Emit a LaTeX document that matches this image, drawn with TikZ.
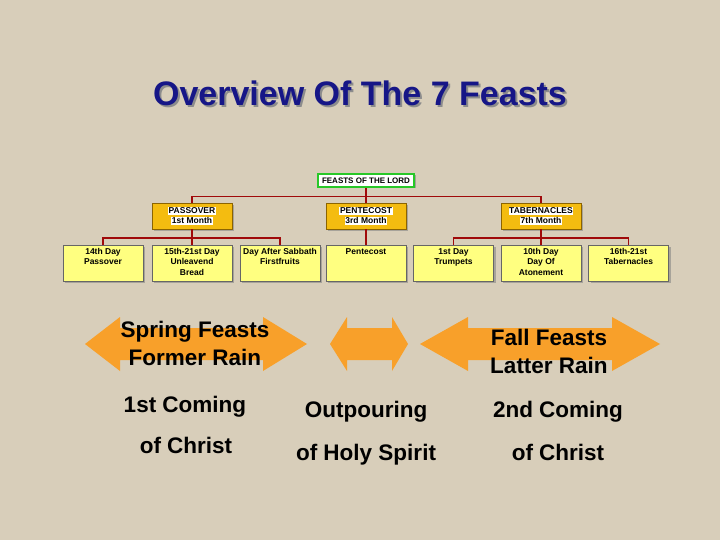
\documentclass[tikz,border=0pt]{standalone}
\usepackage{fontspec}
\setmainfont{Liberation Sans}
\usetikzlibrary{shadows}
\definecolor{bg}{RGB}{216,206,186}
\definecolor{titleblue}{RGB}{22,22,135}
\definecolor{arroworange}{RGB}{248,160,42}
\definecolor{goldbox}{RGB}{244,188,16}
\definecolor{goldedge}{RGB}{140,100,0}
\definecolor{yelbox}{RGB}{255,255,128}
\definecolor{greenedge}{RGB}{40,200,40}
\definecolor{connred}{RGB}{160,10,10}
\tikzset{
  conn/.style={draw=connred, line width=1.1pt},
  topbox/.style={draw=greenedge, line width=2pt, fill=white, minimum width=96pt, minimum height=13pt, inner sep=0pt,
    font=\fontsize{8}{9}\selectfont\bfseries, drop shadow={shadow xshift=1.5pt, shadow yshift=-1.5pt, opacity=0.6}},
  goldstyle/.style={draw=goldedge, line width=0.6pt, fill=goldbox, minimum width=80pt, minimum height=26pt, inner sep=0pt,
    align=center, font=\fontsize{8.5}{10}\selectfont\bfseries, drop shadow={shadow xshift=2pt, shadow yshift=-2pt, opacity=0.55}},
  yelstyle/.style={draw=black!60, line width=0.5pt, fill=yelbox, anchor=north, inner sep=3pt,
    font=\fontsize{8.5}{10.3}\selectfont\bfseries, drop shadow={shadow xshift=2pt, shadow yshift=-2pt, opacity=0.55}},
  bigtxt/.style={font=\fontsize{22.5}{28}\selectfont\bfseries, align=center, inner sep=0pt},
  arrowfill/.style={fill=arroworange},
}
\newcommand{\wl}[1]{{\setlength{\fboxsep}{0.6pt}\colorbox{white}{#1}}}
\newcommand{\ybox}[1]{\parbox[t][30pt][t]{74pt}{\centering #1}}
\begin{document}
\begin{tikzpicture}[x=1pt,y=-1pt]
\fill[bg] (0,0) rectangle (720,540);
\useasboundingbox (0,0) rectangle (720,540);

% title
\node[anchor=base, text=black!45, font=\fontsize{34}{40}\selectfont\bfseries, inner sep=0pt] (titleshadow) at (362,107.5) {Overview Of The 7 Feasts};
\node[anchor=base, text=titleblue, font=\fontsize{34}{40}\selectfont\bfseries, inner sep=0pt] (title) at (360,105.5) {Overview Of The 7 Feasts};

% chart
\node[topbox] (top) at (366,180.5) {FEASTS OF THE LORD};
\node[goldstyle] (pass) at (192,216) {\wl{PASSOVER}\\\wl{1st Month}};
\node[goldstyle] (pent) at (366,216) {\wl{PENTECOST}\\\wl{3rd Month}};
\node[goldstyle] (tab) at (541,216) {\wl{TABERNACLES}\\\wl{7th Month}};

\node[yelstyle] (d14) at (103,245) {\ybox{14th Day\\Passover}};
\node[yelstyle] (d15) at (192,245) {\ybox{15th-21st Day\\Unleavend\\Bread}};
\node[yelstyle] (dff) at (280,245) {\ybox{Day After Sabbath\\Firstfruits}};
\node[yelstyle] (pen) at (366,245) {\ybox{Pentecost}};
\node[yelstyle] (trp) at (453.5,245) {\ybox{1st Day\\Trumpets}};
\node[yelstyle] (atn) at (541,245) {\ybox{10th Day\\Day Of\\Atonement}};
\node[yelstyle] (t16) at (628.5,245) {\ybox{16th-21st\\Tabernacles}};

% connectors
\draw[conn] (top.south) -- (pent.north);
\draw[conn] (pass.north) -- ++(0,-6) -| (tab.north);
\draw[conn] (pass.south) -- (d15.north);
\draw[conn] (d14.north) -- ++(0,-7) -| (dff.north);
\draw[conn] (pent.south) -- (pen.north);
\draw[conn] (tab.south) -- (atn.north);
\draw[conn] (trp.north) -- ++(0,-7) -| (t16.north);

% arrows
\fill[arrowfill] (85,344) -- (120,317) -- (120,328) -- (263,328) -- (263,317) -- (307,344) -- (263,371) -- (263,360) -- (120,360) -- (120,371) -- cycle;
\fill[arrowfill] (330,344) -- (347,317) -- (347,328) -- (392,328) -- (392,317) -- (408,344) -- (392,371) -- (392,360) -- (347,360) -- (347,371) -- cycle;
\fill[arrowfill] (420,344) -- (468,317) -- (468,328) -- (612,328) -- (612,317) -- (660,344) -- (612,371) -- (612,360) -- (468,360) -- (468,371) -- cycle;

\node[bigtxt, anchor=base] (spring1) at (195,337) {Spring Feasts};
\node[bigtxt, anchor=base] (spring2) at (195,365) {Former Rain};
\node[bigtxt, anchor=base] (fall1) at (549,345) {Fall Feasts};
\node[bigtxt, anchor=base] (fall2) at (549,373) {Latter Rain};

\node[bigtxt, anchor=base] (c1a) at (185,412) {1st Coming};
\node[bigtxt, anchor=base] (c1b) at (186,453) {of Christ};
\node[bigtxt, anchor=base] (hsa) at (366,417) {Outpouring};
\node[bigtxt, anchor=base] (hsb) at (366,460) {of Holy Spirit};
\node[bigtxt, anchor=base] (c2a) at (558,417) {2nd Coming};
\node[bigtxt, anchor=base] (c2b) at (558,460) {of Christ};
\end{tikzpicture}
\end{document}
